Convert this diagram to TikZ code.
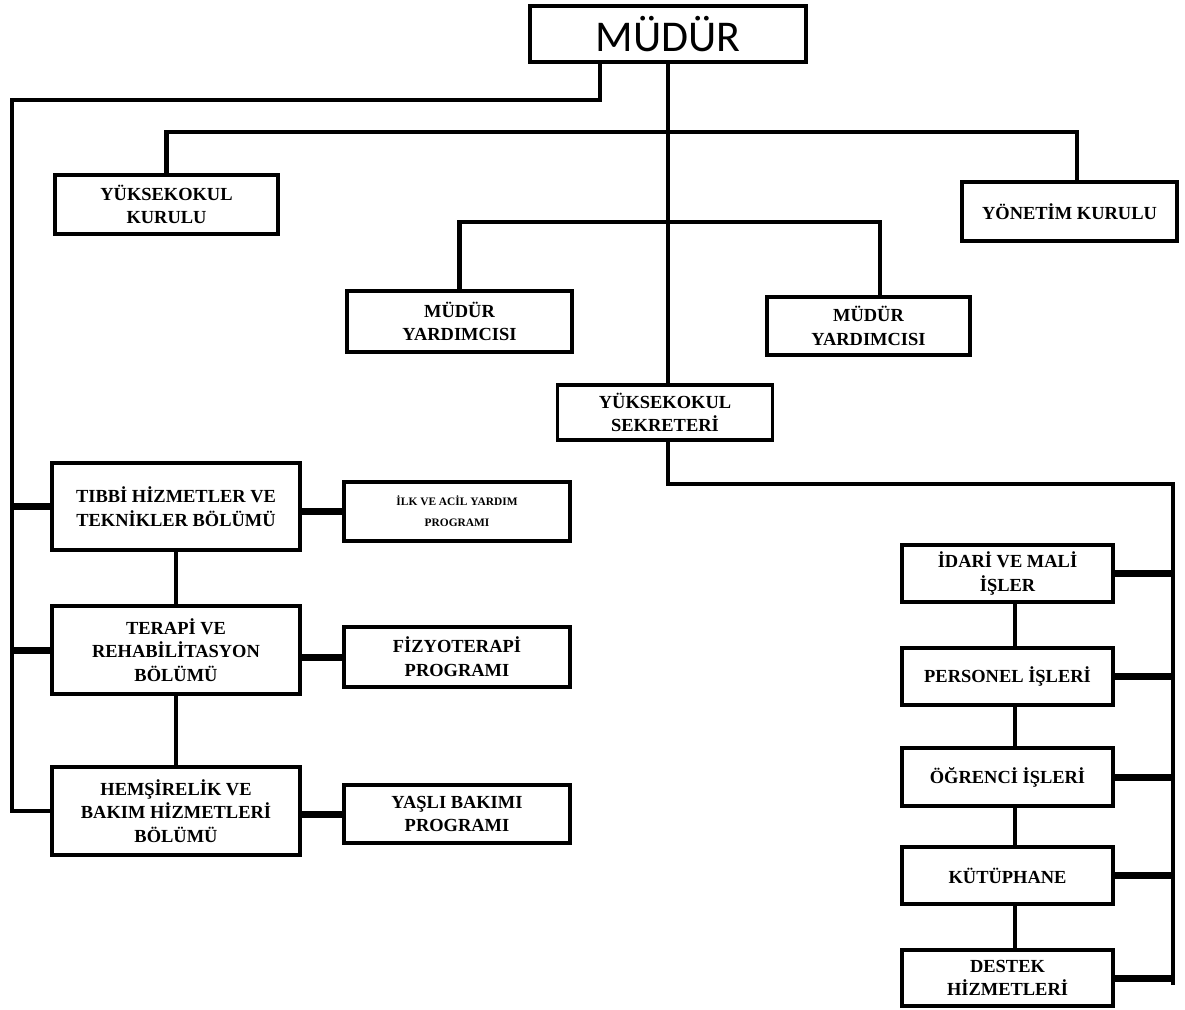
\documentclass[tikz,border=0pt]{standalone}
\usepackage{fontspec}
\setmainfont{Liberation Serif}
\newfontfamily\calib{Carlito}
\begin{document}
\begin{tikzpicture}[x=0.02cm,y=-0.02cm,
  box/.style={draw=black,line width=1.8pt,fill=white,align=center,inner sep=0pt,
    font=\bfseries\fontsize{10.5}{13.5}\selectfont},
  conn/.style={line width=2.3pt,line join=miter},
  fat/.style={line width=4pt}]
\useasboundingbox (0,0) rectangle (1185,1009);
% nodes
\node[box,minimum width=5.52cm,minimum height=1.12cm,font=\calib\fontsize{25}{28}\selectfont] (mudur) at (668,34) {MÜDÜR};
\node[box,minimum width=4.46cm,minimum height=1.18cm] (yk) at (166.5,204.5) {YÜKSEKOKUL\\KURULU};
\node[box,minimum width=4.30cm,minimum height=1.18cm] (yon) at (1069.5,211.5) {YÖNETİM KURULU};
\node[box,minimum width=4.50cm,minimum height=1.22cm] (my1) at (459.5,321.5) {MÜDÜR\\YARDIMCISI};
\node[box,minimum width=4.06cm,minimum height=1.16cm] (my2) at (868.5,326) {MÜDÜR\\YARDIMCISI};
\node[box,minimum width=4.30cm,minimum height=1.10cm] (sek) at (665,412.5) {YÜKSEKOKUL\\SEKRETERİ};
\node[box,minimum width=4.96cm,minimum height=1.74cm] (tib) at (176,506.5) {TIBBİ HİZMETLER VE\\TEKNİKLER BÖLÜMÜ};
\node[box,minimum width=4.96cm,minimum height=1.76cm] (ter) at (176,650) {TERAPİ VE\\REHABİLİTASYON\\BÖLÜMÜ};
\node[box,minimum width=4.96cm,minimum height=1.76cm] (hem) at (176,811) {HEMŞİRELİK VE\\BAKIM HİZMETLERİ\\BÖLÜMÜ};
\node[box,minimum width=4.52cm,minimum height=1.18cm,font=\bfseries\fontsize{6.5}{12}\selectfont] (ilk) at (457,511.5) {İLK VE ACİL YARDIM\\PROGRAMI};
\node[box,minimum width=4.52cm,minimum height=1.20cm] (fiz) at (457,657) {FİZYOTERAPİ\\PROGRAMI};
\node[box,minimum width=4.52cm,minimum height=1.16cm] (yas) at (457,814) {YAŞLI BAKIMI\\PROGRAMI};
\node[box,minimum width=4.22cm,minimum height=1.14cm] (idr) at (1007.5,573.5) {İDARİ VE MALİ\\İŞLER};
\node[box,minimum width=4.22cm,minimum height=1.14cm] (per) at (1007.5,676.5) {PERSONEL İŞLERİ};
\node[box,minimum width=4.22cm,minimum height=1.16cm] (ogr) at (1007.5,777) {ÖĞRENCİ İŞLERİ};
\node[box,minimum width=4.22cm,minimum height=1.14cm] (kut) at (1007.5,875.5) {KÜTÜPHANE};
\node[box,minimum width=4.22cm,minimum height=1.12cm] (des) at (1007.5,978) {DESTEK\\HİZMETLERİ};
% coordinates
\coordinate (mleft) at (600,62);
\coordinate (ltop) at (12,100);
\coordinate (h1) at (0,132);
\coordinate (h2) at (0,222);
\coordinate (yonc) at (1077,0);
\coordinate (my2c) at (880,0);
\coordinate (rv) at (1015,0);
\coordinate (rtop) at (1173,484);
\coordinate (rbot) at (1173,985);
% connectors
\draw[conn] (mleft) |- (ltop) |- (hem.west);
\draw[conn] (mudur.south) -- (sek.north -| mudur.south);
\draw[conn] (yk.north) |- (h1 -| yonc) -- (yonc |- yon.north);
\draw[conn] (my1.north) |- (h2 -| my2c) -- (my2c |- my2.north);
\draw[conn] (sek.south -| mudur.south) |- (rtop) -- (rbot);
\draw[conn] (tib.south) -- (ter.north);
\draw[conn] (ter.south) -- (hem.north);
\draw[conn] (idr.south -| rv) -- (per.north -| rv);
\draw[conn] (per.south -| rv) -- (ogr.north -| rv);
\draw[conn] (ogr.south -| rv) -- (kut.north -| rv);
\draw[conn] (kut.south -| rv) -- (des.north -| rv);
\draw[fat] (tib.west) -- (tib.west -| ltop);
\draw[fat] (ter.west) -- (ter.west -| ltop);
\draw[fat] (ilk.west) -- (ilk.west -| tib.east);
\draw[fat] (fiz.west) -- (fiz.west -| ter.east);
\draw[fat] (yas.west) -- (yas.west -| hem.east);
\draw[fat] (idr.east) -- (idr.east -| rtop);
\draw[fat] (per.east) -- (per.east -| rtop);
\draw[fat] (ogr.east) -- (ogr.east -| rtop);
\draw[fat] (kut.east) -- (kut.east -| rtop);
\draw[fat] (des.east) -- (des.east -| rtop);
\end{tikzpicture}
\end{document}
